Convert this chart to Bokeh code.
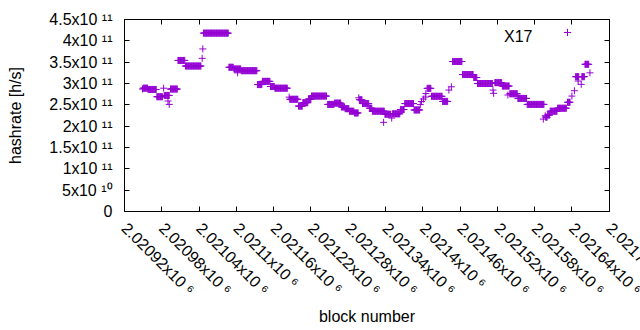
import math
from bokeh.plotting import figure
from bokeh.models import (Range1d, FixedTicker, LinearAxis, Label,
                          CustomJSTickFormatter, Legend, LegendItem)
from bokeh.embed import file_html
from bokeh.resources import INLINE

# ---- data ----
# runs of consecutive blocks with the same hashrate
run_start = [2020950, 2020958, 2020972, 2020984, 2020994, 2021006, 2021018, 2021047,
             2021088, 2021096, 2021108, 2021134, 2021142, 2021155, 2021162, 2021186,
             2021200, 2021207, 2021216, 2021221, 2021247, 2021258, 2021269, 2021275,
             2021282, 2021290, 2021298, 2021303, 2021314, 2021319, 2021339, 2021351,
             2021364, 2021371, 2021386, 2021407, 2021414, 2021432, 2021448, 2021464,
             2021482, 2021488, 2021516, 2021528, 2021540, 2021553, 2021568, 2021598,
             2021601, 2021605, 2021617, 2021633, 2021646, 2021656, 2021661]
run_end = [2020957, 2020971, 2020981, 2020992, 2021005, 2021017, 2021043, 2021087,
           2021095, 2021107, 2021133, 2021141, 2021154, 2021161, 2021182, 2021199,
           2021206, 2021215, 2021220, 2021245, 2021257, 2021268, 2021274, 2021281,
           2021289, 2021296, 2021302, 2021313, 2021318, 2021338, 2021348, 2021363,
           2021370, 2021385, 2021395, 2021413, 2021431, 2021440, 2021463, 2021481,
           2021487, 2021512, 2021527, 2021539, 2021552, 2021567, 2021595, 2021600,
           2021604, 2021616, 2021631, 2021637, 2021651, 2021660, 2021667]
run_value = [2.89e11, 2.86e11, 2.69e11, 2.72e11, 2.87e11, 3.54e11, 3.41e11, 4.18e11,
             3.38e11, 3.34e11, 3.30e11, 2.975e11, 3.05e11, 2.93e11, 2.89e11, 2.63e11,
             2.47e11, 2.55e11, 2.635e11, 2.705e11, 2.51e11, 2.54e11, 2.45e11, 2.41e11,
             2.35e11, 2.31e11, 2.62e11, 2.53e11, 2.42e11, 2.35e11, 2.28e11, 2.29e11,
             2.39e11, 2.53e11, 2.38e11, 2.886e11, 2.70e11, 2.58e11, 3.515e11, 3.21e11,
             3.14e11, 3.00e11, 3.02e11, 2.94e11, 2.76e11, 2.65e11, 2.51e11, 2.21e11,
             2.26e11, 2.35e11, 2.42e11, 2.56e11, 3.16e11, 3.16e11, 3.45e11]
# isolated blocks
single_block = [2020949, 2020983, 2020990, 2020992, 2021045, 2021046, 2021102, 2021185,
                2021297, 2021337, 2021350, 2021396, 2021398, 2021401, 2021404, 2021405,
                2021442, 2021446, 2021513, 2021514, 2021537, 2021594, 2021597,
                2021640, 2021644, 2021650, 2021655, 2021669]
single_value = [2.87e11, 2.89e11, 2.59e11, 2.51e11, 3.59e11, 3.81e11, 3.25e11, 2.68e11,
                2.665e11, 2.09e11, 2.19e11, 2.505e11, 2.576e11, 2.635e11, 2.682e11, 2.764e11,
                2.846e11, 2.923e11, 2.846e11, 2.77e11, 2.73e11, 2.166e11, 2.243e11,
                2.705e11, 2.83e11, 3.057e11, 2.98e11, 3.25e11]

series_name = "X17"
x_ticks = [2020920, 2020980, 2021040, 2021100, 2021160, 2021220, 2021280,
           2021340, 2021400, 2021460, 2021520, 2021580, 2021640, 2021700]
x_tick_labels = ["2.02092x10 ⁶", "2.02098x10 ⁶", "2.02104x10 ⁶", "2.0211x10 ⁶", "2.02116x10 ⁶",
                 "2.02122x10 ⁶", "2.02128x10 ⁶", "2.02134x10 ⁶", "2.0214x10 ⁶", "2.02146x10 ⁶",
                 "2.02152x10 ⁶", "2.02158x10 ⁶", "2.02164x10 ⁶", "2.0217x10 ⁶"]
y_ticks = [0, 5e10, 1e11, 1.5e11, 2e11, 2.5e11, 3e11, 3.5e11, 4e11, 4.5e11]
y_tick_labels = ["0", "5x10 ¹⁰", "1x10 ¹¹", "1.5x10 ¹¹", "2x10 ¹¹", "2.5x10 ¹¹",
                 "3x10 ¹¹", "3.5x10 ¹¹", "4x10 ¹¹", "4.5x10 ¹¹"]
x_title = "block number"
y_title = "hashrate [h/s]"

# ---- build point table ----
xs, ys = [], []
for s, e, v in zip(run_start, run_end, run_value):
    for b in range(s, e + 1):
        xs.append(b)
        ys.append(v)
xs += single_block
ys += single_value

FONT = "Liberation Sans"
FS = "16px"
COLOR = "#9400d3"

x0, x1 = x_ticks[0], x_ticks[-1]
y0, y1 = y_ticks[0], y_ticks[-1]
# a hair of room past the last tick so that its (cut-off) label is not pushed
# back inside the canvas by Bokeh's edge correction
x_pad = 0.5
x_end = x1 + x_pad

p = figure(width=640, height=330, x_range=Range1d(x0, x_end), y_range=Range1d(y0, y1),
           output_backend="svg", toolbar_location=None,
           min_border_left=124, min_border_right=31, min_border_top=19, min_border_bottom=119,
           background_fill_color="white", border_fill_color="white")
p.grid.visible = False
p.outline_line_color = "black"
p.outline_line_width = 1

empty = CustomJSTickFormatter(code="return ''")


def style_axis(ax, ticks, labels=None):
    ax.ticker = FixedTicker(ticks=ticks)
    ax.major_tick_in = 5
    ax.major_tick_out = 0
    ax.minor_tick_line_color = None
    ax.axis_line_color = "black"
    ax.major_tick_line_color = "black"
    if labels is None:
        ax.formatter = empty
        ax.major_label_standoff = 0
        ax.major_label_text_font_size = "1px"
    else:
        ax.major_label_overrides = {t: l for t, l in zip(ticks, labels)}
        ax.major_label_text_font = FONT
        ax.major_label_text_font_size = FS
        ax.major_label_text_color = "black"
        ax.axis_label_text_font = FONT
        ax.axis_label_text_font_size = FS
        ax.axis_label_text_font_style = "normal"
        ax.axis_label_text_color = "black"


xa = p.xaxis[0]
style_axis(xa, x_ticks + [x_end], x_tick_labels + [""])
xa.major_tick_line_color = "black"
xa.major_label_orientation = -math.pi / 4
xa.major_label_standoff = 14
xa.axis_label = x_title
xa.axis_label_standoff = 1

ya = p.yaxis[0]
style_axis(ya, y_ticks, y_tick_labels)
ya.major_label_standoff = 12
ya.axis_label = y_title
ya.axis_label_standoff = 22

top = LinearAxis()
style_axis(top, x_ticks)
p.add_layout(top, "above")
right = LinearAxis()
style_axis(right, y_ticks)
p.add_layout(right, "right")

r = p.scatter(xs, ys, marker="cross", size=7, line_color=COLOR, line_width=1)

# key: title text on the left, point sample on the right
p.add_layout(Label(x=x_end, y=y1, x_offset=-77, y_offset=-17, text=series_name,
                   text_align="right", text_baseline="alphabetic", text_font=FONT,
                   text_font_size=FS, text_color="black"))
leg = Legend(items=[LegendItem(label="", renderers=[r])],
             location=(434, 170), padding=0, margin=0, glyph_width=18, glyph_height=18,
             label_height=18, label_width=1, label_standoff=0,
             border_line_color=None, background_fill_alpha=0,
             label_text_font=FONT, label_text_font_size="1px")
p.add_layout(leg, "center")

open("out.html", "w").write(file_html(p, INLINE))
